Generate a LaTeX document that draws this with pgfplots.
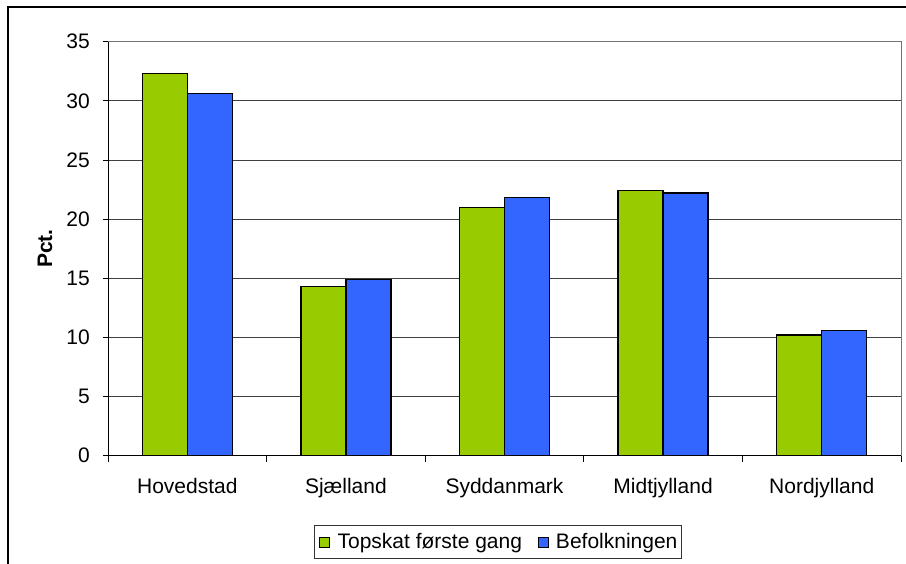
\documentclass[border=0pt]{standalone}
\usepackage{pgfplots}
\pgfplotsset{compat=1.18}
\usepackage{fontspec}
\setmainfont{Liberation Sans}
\definecolor{cgreen}{HTML}{99CC00}
\definecolor{cblue}{HTML}{3366FF}
\begin{document}
\fontsize{21pt}{24pt}\selectfont
\begin{tikzpicture}
\begin{axis}[
  scale only axis, width=793pt, height=414pt,
  xmin=-0.5, xmax=4.5, ymin=0, ymax=35,
  ybar=0pt, bar width=0.284,
  xtick={0,1,2,3,4},
  xticklabels={Hovedstad,Sjælland,Syddanmark,Midtjylland,Nordjylland},
  major x tick style={draw=none},
  extra x ticks={-0.5,0.5,1.5,2.5,3.5,4.5},
  extra x tick labels={},
  extra x tick style={major tick length=6pt, xtick align=outside, major x tick style={draw=black,line width=0.8pt}},
  ytick={0,5,...,35},
  ytick align=outside, major tick length=5pt,
  ymajorgrids, major grid style={black!75,line width=0.8pt},
  axis x line*=bottom, axis y line*=left,
  axis line style={black,line width=0.9pt},
  y axis line style={-}, x axis line style={-},
  tick style={black,line width=0.8pt},
  /pgf/number format/assume math mode=true,
  yticklabel style={inner sep=0pt, anchor=east, xshift=-13pt},
  xticklabel style={inner sep=0pt, anchor=north, yshift=-17pt},
  ylabel={\textbf{Pct.}},
  every axis y label/.style={at={(rel axis cs:0,0.5)}, rotate=90, anchor=center, yshift=63pt},
  legend style={at={(rel axis cs:0.4918,-0.1674)}, anchor=north, legend columns=2,
    draw=black!80, line width=0.8pt, inner xsep=2pt, inner ysep=5.5pt,
    nodes={inner xsep=2pt},
    /tikz/every even column/.append style={column sep=11pt}},
  legend image code/.code={\path[draw=none,fill=none] (-3pt,0pt) -- (16pt,0pt);\draw[#1,line width=0.9pt] (0pt,-5pt) rectangle (10pt,5pt);},
  clip=false,
]
\addplot[fill=cgreen, draw=black, line width=1.3pt, bar shift=-0.142] coordinates {(0,32.3) (1,14.3) (2,21.0) (3,22.4) (4,10.2)};
\addplot[fill=cblue, draw=black, line width=1.3pt, bar shift=0.142] coordinates {(0,30.6) (1,14.9) (2,21.8) (3,22.2) (4,10.6)};
\legend{Topskat første gang, Befolkningen}
\draw[black!55,line width=1pt] (rel axis cs:0,1) -- (rel axis cs:1,1) -- (rel axis cs:1,0);
\coordinate (O) at (rel axis cs:0,0);
\end{axis}
\pgfresetboundingbox
\path[use as bounding box, shift={(O)}] (-108pt,-108.3pt) rectangle (798pt,455.7pt);
\begin{scope}[shift={(O)}]
\clip (-108pt,-108.3pt) rectangle (798pt,455.7pt);
\draw[black,line width=1.3pt] (-100pt,-200pt) rectangle (900pt,448.7pt);
\end{scope}
\end{tikzpicture}
\end{document}
